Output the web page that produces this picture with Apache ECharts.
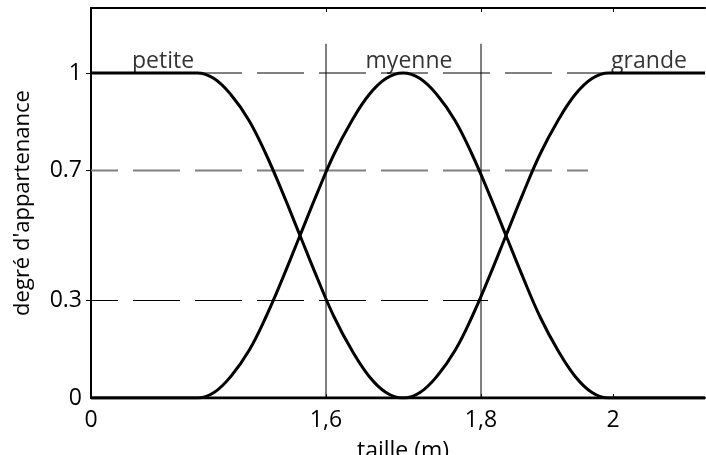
<!DOCTYPE html>
<html>
<head>
<meta charset="utf-8">
<script src="https://cdn.jsdelivr.net/npm/echarts@6/dist/echarts.min.js"></script>
<style>
  html, body { margin: 0; padding: 0; background: #fff; }
  #chart { width: 706px; height: 455px; }
</style>
</head>
<body>
<div id="chart"></div>
<script>
// x runs in plot units across the frame; the tick texts sit at these positions
const xMax = 614;
const xTickPos = [0, 235, 390, 522];
const xTickText = ['0', '1,6', '1,8', '2'];
const yTickVals = [0, 0.3, 0.7, 1];

// membership curves: petite, myenne, grande
const petiteX = [0, 106, 123, 140, 158, 175, 192, 209, 226, 243, 261, 278, 295, 312, 614];
const petiteY = [1, 1, 0.983, 0.933, 0.854, 0.75, 0.629, 0.5, 0.371, 0.25, 0.146, 0.067, 0.017, 0, 0];

const myenneX = [0, 106, 123, 140, 158, 175, 192, 209, 226, 243, 261, 278, 295, 312,
                 329, 346, 364, 381, 398, 415, 432, 449, 467, 484, 501, 518, 614];
const myenneY = [0, 0, 0.017, 0.067, 0.146, 0.25, 0.371, 0.5, 0.629, 0.75, 0.854, 0.933, 0.983, 1,
                 0.983, 0.933, 0.854, 0.75, 0.629, 0.5, 0.371, 0.25, 0.146, 0.067, 0.017, 0, 0];

const grandeX = [0, 312, 329, 346, 364, 381, 398, 415, 432, 449, 467, 484, 501, 518, 614];
const grandeY = [0, 0, 0.017, 0.067, 0.146, 0.25, 0.371, 0.5, 0.629, 0.75, 0.854, 0.933, 0.983, 1, 1];

// curve names written above the plateaus
const curveNames = ['petite', 'myenne', 'grande'];
const namePosX = [72, 318, 558];

// horizontal dashed reference levels and where each stops
const refLevels = [1, 0.7, 0.3];
const refEnds = [614, 497, 397];
const refColors = ['#808080', '#808080', '#000'];
const refWidths = [2, 2, 1];

// vertical guides at 1,6 and 1,8
const guideX = [235, 390];
const guideTop = 1.09;

const FONT = 'Open Sans';
const zip = (xs, ys) => xs.map((x, i) => [x, ys[i]]);

const series = [];

refLevels.forEach((lv, i) => {
  series.push({
    type: 'line', silent: true, symbol: 'none', z: 1,
    data: [[0, lv], [refEnds[i], lv]],
    lineStyle: { color: refColors[i], width: refWidths[i], type: [47, 15], dashOffset: 20 }
  });
});

guideX.forEach(gx => {
  series.push({
    type: 'line', silent: true, symbol: 'none', z: 2,
    data: [[gx, 0], [gx, guideTop]],
    lineStyle: { color: '#000', width: 1 }
  });
});

[[petiteX, petiteY], [myenneX, myenneY], [grandeX, grandeY]].forEach(([xs, ys]) => {
  series.push({
    type: 'line', silent: true, symbol: 'none', z: 3,
    smooth: 0.4,
    data: zip(xs, ys),
    lineStyle: { color: '#000', width: 3, join: 'round' }
  });
});

series.push({
  type: 'scatter', silent: true, symbolSize: 0, z: 4,
  data: curveNames.map((n, i) => [namePosX[i], 1, n]),
  label: {
    show: true, position: 'top', distance: 0,
    formatter: p => p.data[2],
    fontFamily: FONT, fontSize: 23, color: '#000'
  }
});

const chart = echarts.init(document.getElementById('chart'), null, { renderer: 'canvas' });
chart.setOption({
  animation: false,
  backgroundColor: '#fff',
  grid: { left: 91, top: 8, width: 614, height: 390, containLabel: false, outerBoundsMode: 'none' },
  xAxis: [
    {
      type: 'value', min: 0, max: xMax, position: 'bottom',
      name: 'taille (m)', nameLocation: 'middle', nameGap: 42,
      nameTextStyle: { fontFamily: FONT, fontSize: 23, color: '#000', padding: [0, 0, 0, 10] },
      axisLine: { show: true, onZero: false, lineStyle: { color: '#000', width: 2 } },
      axisTick: { show: true, inside: true, length: 4, customValues: xTickPos.slice(1), lineStyle: { color: '#000' } },
      axisLabel: {
        show: true, margin: 11, customValues: xTickPos,
        formatter: v => xTickText[xTickPos.indexOf(v)] ?? '',
        fontFamily: FONT, fontSize: 23, color: '#000'
      },
      splitLine: { show: false }
    },
    {
      type: 'value', min: 0, max: xMax, position: 'top',
      axisLine: { show: true, onZero: false, lineStyle: { color: '#000', width: 2 } },
      axisTick: { show: true, inside: true, length: 4, customValues: xTickPos.slice(1), lineStyle: { color: '#000' } },
      axisLabel: { show: false },
      splitLine: { show: false }
    }
  ],
  yAxis: {
    type: 'value', min: 0, max: 1.2,
    name: "degré d'appartenance", nameLocation: 'middle', nameGap: 57,
    nameTextStyle: { fontFamily: FONT, fontSize: 22, color: '#000' },
    axisLine: { show: true, onZero: false, lineStyle: { color: '#000', width: 2 } },
    axisTick: { show: true, length: 5, customValues: yTickVals.slice(1), lineStyle: { color: '#000' } },
    axisLabel: {
      show: true, margin: 9, customValues: yTickVals,
      formatter: v => String(v),
      fontFamily: FONT, fontSize: 23, color: '#000'
    },
    splitLine: { show: false }
  },
  series: series
});
</script>
</body>
</html>
